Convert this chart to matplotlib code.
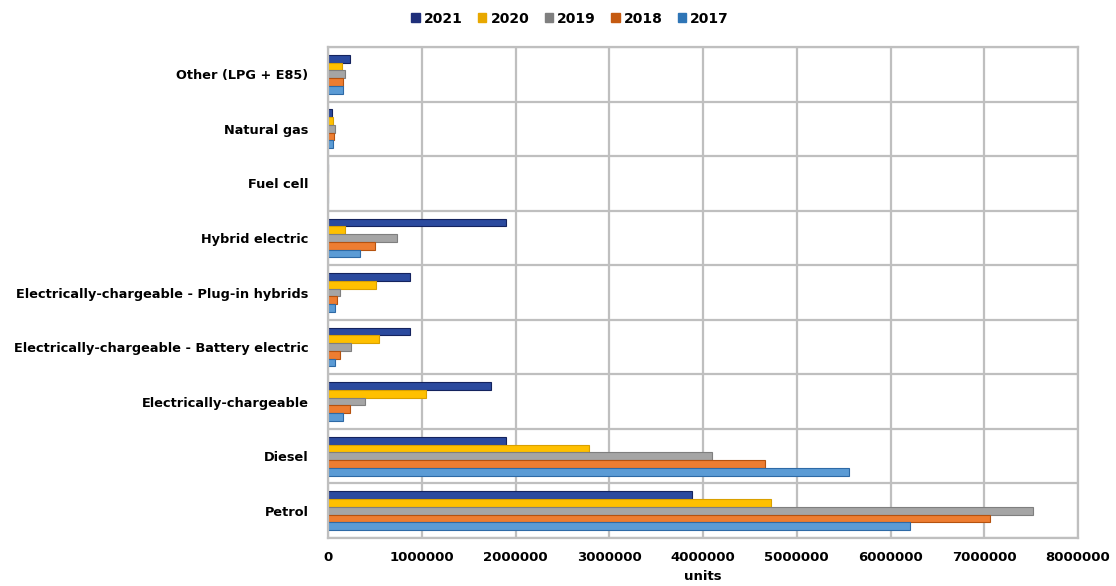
import matplotlib
matplotlib.use("Agg")
import matplotlib.pyplot as plt
import numpy as np
from matplotlib.patches import Patch

categories = ["Petrol", "Diesel", "Electrically-chargeable",
              "Electrically-chargeable - Battery electric",
              "Electrically-chargeable - Plug-in hybrids",
              "Hybrid electric", "Fuel cell", "Natural gas", "Other (LPG + E85)"]
years = ["2021", "2020", "2019", "2018", "2017"]
v2021 = [3880000, 1900000, 1740000, 875000, 870000, 1900000, 2000, 45000, 230000]
v2020 = [4730000, 2780000, 1040000, 540000, 510000, 180000, 1000, 55000, 150000]
v2019 = [7520000, 4100000, 390000, 250000, 130000, 740000, 2000, 73000, 180000]
v2018 = [7060000, 4660000, 240000, 125000, 100000, 500000, 1000, 62000, 165000]
v2017 = [6210000, 5560000, 160000, 80000, 80000, 340000, 1000, 55000, 157000]
xticks = [0, 1000000, 2000000, 3000000, 4000000, 5000000, 6000000, 7000000, 8000000]

series = [v2021, v2020, v2019, v2018, v2017]
fills = ["#2B4A9E", "#FFC000", "#A5A5A5", "#ED7D31", "#5B9BD5"]
edges = ["#14235E", "#D9A000", "#7F7F7F", "#B5520F", "#2E6AA6"]
legend_cols = ["#1F2F7A", "#E8A800", "#7F7F7F", "#C55A11", "#2E75B6"]

fig = plt.figure(figsize=(11.16, 5.86), dpi=100)
ax = fig.add_axes([0.2939, 0.0819, 0.6721, 0.8379])
ax.set_axisbelow(True)

y = np.arange(len(categories))
h = 0.142
for i, (vals, fc, ec) in enumerate(zip(series, fills, edges)):
    ax.barh(y + (2 - i) * h, vals, height=h, color=fc, edgecolor=ec,
            linewidth=0.8, zorder=2)

ax.set_xlim(0, 8000000)
ax.set_ylim(-0.5, len(categories) - 0.5)
ax.set_xticks(xticks)
ax.set_xticklabels([str(t) for t in xticks], fontsize=9.5, fontweight="bold")
ax.set_yticks(y)
ax.set_yticklabels(categories, fontsize=9.3, fontweight="bold")
ax.set_yticks(np.arange(-0.5, len(categories), 1), minor=True)
ax.tick_params(axis="both", which="both", length=0)
ax.tick_params(axis="x", pad=9)
ax.tick_params(axis="y", pad=14)
ax.grid(axis="x", which="major", color="#BFBFBF", linewidth=1.6)
ax.grid(axis="y", which="minor", color="#BFBFBF", linewidth=1.6)
for s in ax.spines.values():
    s.set_color("#BFBFBF")
    s.set_linewidth(1.6)
    s.set_zorder(2.5)
ax.set_xlabel("units", fontsize=9.5, fontweight="bold", labelpad=5)

handles = [Patch(facecolor=c, edgecolor=c, label=yr) for yr, c in zip(years, legend_cols)]
fig.legend(handles=handles, loc="center", bbox_to_anchor=(0.511, 0.968), ncol=5,
           frameon=False, prop={"weight": "bold", "size": 10},
           handlelength=0.6, handleheight=0.6, handletextpad=0.3, columnspacing=1.1)

fig.savefig("out.png", dpi=100)
